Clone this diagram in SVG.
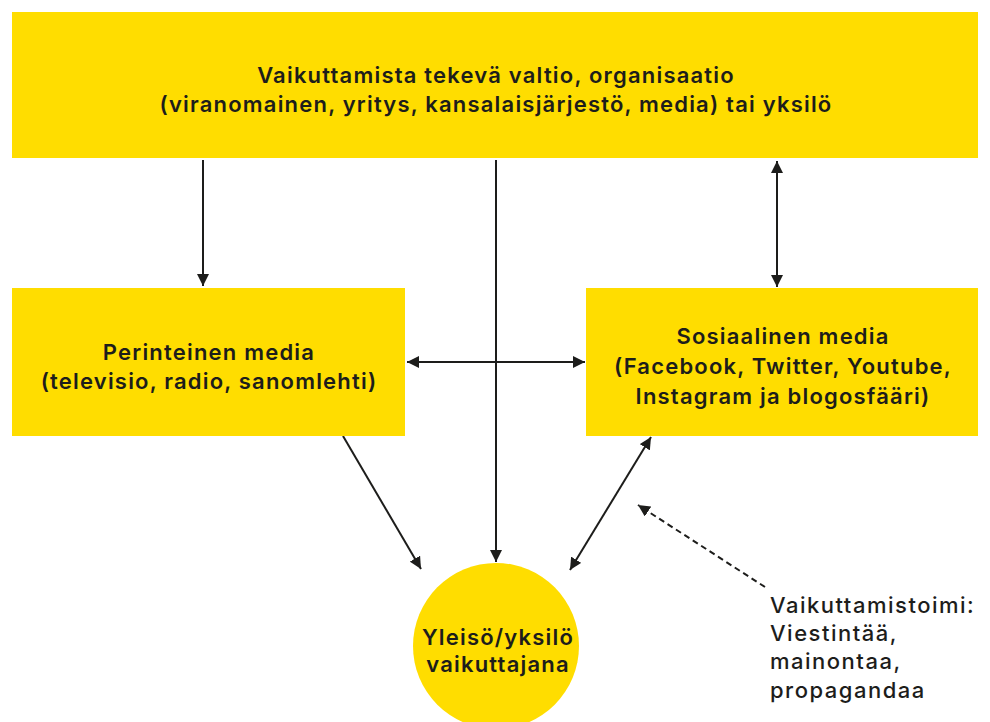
<svg xmlns="http://www.w3.org/2000/svg" width="990" height="722" viewBox="0 0 990 722">
<defs>
<style>
.box{fill:#FFDD00;}
.t{font-family:Inter,"Liberation Sans",sans-serif;font-weight:600;font-size:22px;letter-spacing:1.2px;fill:#1d1d1b;text-anchor:middle;}
.a{font-family:Inter,"Liberation Sans",sans-serif;font-weight:500;font-size:22px;letter-spacing:1.5px;fill:#1d1d1b;}
.ln{stroke:#1d1d1b;stroke-width:2;fill:none;}
.dash{stroke-dasharray:6 4;}
</style>
<marker id="ah" viewBox="0 0 10 10" refX="10" refY="5" markerWidth="12" markerHeight="12" markerUnits="userSpaceOnUse" orient="auto-start-reverse">
<path d="M0,0 L10,5 L0,10 Z" fill="#1d1d1b"/>
</marker>
</defs>
<rect width="990" height="722" fill="#fff"/>
<g id="connectors">
<line class="ln" x1="203" y1="160" x2="203" y2="286" marker-end="url(#ah)"/>
<line class="ln" x1="496" y1="160" x2="496" y2="562" marker-end="url(#ah)"/>
<line class="ln" x1="777" y1="161" x2="777" y2="287" marker-start="url(#ah)" marker-end="url(#ah)"/>
<line class="ln" x1="407" y1="362" x2="585" y2="362" marker-start="url(#ah)" marker-end="url(#ah)"/>
<line class="ln" x1="343" y1="436" x2="421" y2="569" marker-end="url(#ah)"/>
<line class="ln" x1="651" y1="437" x2="570" y2="570" marker-start="url(#ah)" marker-end="url(#ah)"/>
<line class="ln dash" x1="765" y1="587" x2="638" y2="505" marker-end="url(#ah)"/>
</g>
<g id="top">
<rect class="box" x="12" y="12" width="966" height="146"/>
<text class="t" x="496" y="83">Vaikuttamista tekevä valtio, organisaatio</text>
<text class="t" x="496" y="112">(viranomainen, yritys, kansalaisjärjestö, media) tai yksilö</text>
</g>
<g id="perinteinen">
<rect class="box" x="12" y="288" width="393" height="148"/>
<text class="t" x="209" y="360">Perinteinen media</text>
<text class="t" x="209" y="389">(televisio, radio, sanomlehti)</text>
</g>
<g id="sosiaalinen">
<rect class="box" x="586" y="288" width="392" height="148"/>
<text class="t" x="783" y="344">Sosiaalinen media</text>
<text class="t" x="783" y="374">(Facebook, Twitter, Youtube,</text>
<text class="t" x="783" y="404">Instagram ja blogosfääri)</text>
</g>
<g id="yleiso">
<circle class="box" cx="496" cy="646" r="83"/>
<text class="t" x="498" y="645">Yleisö/yksilö</text>
<text class="t" x="498" y="672">vaikuttajana</text>
</g>
<g id="vaikuttamistoimi">
<text class="a" x="770" y="613">Vaikuttamistoimi:</text>
<text class="a" x="770" y="641">Viestintää,</text>
<text class="a" x="770" y="669">mainontaa,</text>
<text class="a" x="770" y="698">propagandaa</text>
</g>
</svg>
